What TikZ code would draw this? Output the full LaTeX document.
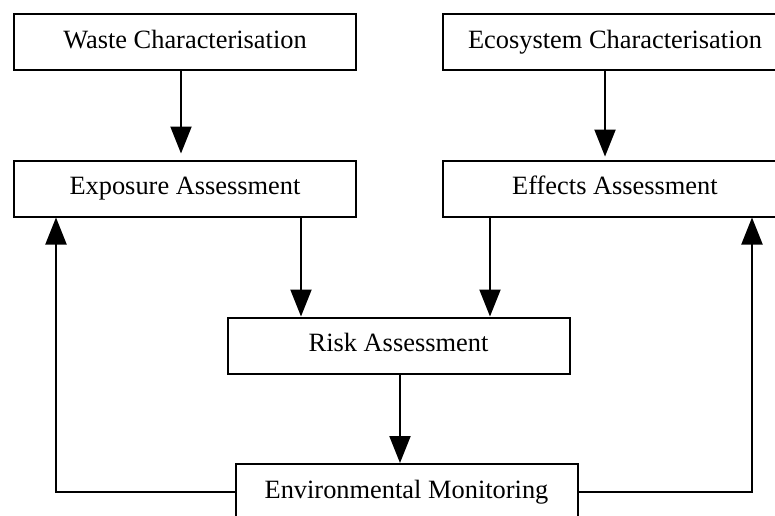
\documentclass[tikz,border=0pt]{standalone}
\usepackage{fontspec}
\setmainfont{Liberation Serif}
\usetikzlibrary{arrows.meta}
\begin{document}
\begin{tikzpicture}[x=0.75pt,y=-0.75pt,
  stagebox/.style={draw,line width=1.5pt,rectangle,inner sep=0pt,
    minimum width=256.5pt,minimum height=42pt,
    text height=14pt,text depth=4.6pt,
    font=\fontsize{19.8pt}{24pt}\selectfont},
  widebox/.style={stagebox,minimum width=258pt},
  arr/.style={line width=1.5pt,-{Triangle[length=20.25pt,width=15.75pt]}},
  feed/.style={line width=1.5pt,-{Triangle[length=20.25pt,width=15.75pt]}}]
  \useasboundingbox (0,0) rectangle (775,515);
  \clip (0,0) rectangle (775,515);
  % process stages
  \node[stagebox] (waste) at (185,42)    {Waste Characterisation};
  \node[widebox]  (eco)   at (615,42)    {Ecosystem Characterisation};
  \node[stagebox] (expo)  at (185,188.5) {Exposure Assessment};
  \node[widebox]  (eff)   at (615,188.5) {Effects Assessment};
  \node[stagebox] (risk)  at (398.5,345.5) {Risk Assessment};
  \node[stagebox] (env)   at (406.5,492) {Environmental Monitoring};
  % forward flow
  \draw[arr,shorten >=4.5pt] (181,0 |- waste.south) -- (181,0 |- expo.north);
  \draw[arr,shorten >=2.2pt] (605,0 |- eco.south) -- (605,0 |- eff.north);
  \draw[arr] (301,0 |- expo.south) -- (301,0 |- risk.north);
  \draw[arr] (490,0 |- eff.south) -- (490,0 |- risk.north);
  \draw[arr] (400,0 |- risk.south) -- (400,0 |- env.north);
  % monitoring feedback
  \draw[feed] (env.west) -| (56,0 |- expo.south);
  \draw[feed] (env.east) -| (752,0 |- eff.south);
\end{tikzpicture}
\end{document}
